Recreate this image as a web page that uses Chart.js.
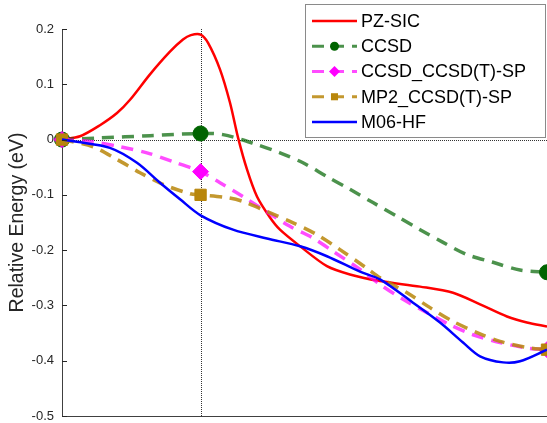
<!DOCTYPE html>
<html><head><meta charset="utf-8">
<script src="https://cdn.jsdelivr.net/npm/chart.js@4.4.1/dist/chart.umd.min.js"></script>
<style>html,body{margin:0;padding:0;background:#fff;overflow:hidden}#wrap{width:547px;height:423px}</style>
</head><body><div id="wrap"><canvas id="c" width="547" height="423"></canvas></div>
<script>
// ---- data ----
const seriesNames = ['PZ-SIC', 'CCSD', 'CCSD_CCSD(T)-SP', 'MP2_CCSD(T)-SP', 'M06-HF'];

const pzX = [0, 0.13, 0.274, 0.397, 0.491, 0.635, 0.779, 0.873, 0.93, 1.0, 1.054, 1.14, 1.212, 1.27, 1.335, 1.407, 1.501, 1.573, 1.718, 1.912, 2.078, 2.295, 2.584, 2.822, 3.017, 3.211, 3.355, 3.5];
const pzY = [0, 0.006, 0.026, 0.048, 0.072, 0.118, 0.159, 0.181, 0.189, 0.19, 0.175, 0.127, 0.067, 0.004, -0.054, -0.103, -0.141, -0.163, -0.193, -0.229, -0.244, -0.256, -0.266, -0.277, -0.298, -0.32, -0.331, -0.338];

const ccsdX = [0, 0.274, 0.635, 1.0, 1.162, 1.407, 1.573, 1.739, 1.912, 2.078, 2.244, 2.418, 2.584, 2.75, 2.923, 3.11, 3.305, 3.5];
const ccsdY = [0, 0.003, 0.007, 0.011, 0.009, -0.009, -0.024, -0.042, -0.067, -0.09, -0.114, -0.139, -0.163, -0.186, -0.208, -0.222, -0.236, -0.24];

const ccsdtX = [0, 0.224, 0.419, 0.613, 0.801, 1.0, 1.14, 1.306, 1.645, 1.79, 1.956, 2.151, 2.295, 2.461, 2.634, 2.8, 2.966, 3.161, 3.355, 3.5];
const ccsdtY = [0, -0.004, -0.013, -0.024, -0.04, -0.058, -0.078, -0.103, -0.157, -0.175, -0.202, -0.235, -0.262, -0.289, -0.313, -0.335, -0.353, -0.367, -0.377, -0.38];

const mp2X = [0, 0.224, 0.397, 0.563, 0.729, 0.924, 1.0, 1.191, 1.306, 1.479, 1.645, 1.84, 2.006, 2.201, 2.295, 2.49, 2.656, 2.822, 2.995, 3.161, 3.355, 3.5];
const mp2Y = [0, -0.013, -0.036, -0.06, -0.081, -0.098, -0.1, -0.105, -0.112, -0.13, -0.148, -0.172, -0.199, -0.233, -0.25, -0.277, -0.304, -0.329, -0.349, -0.365, -0.376, -0.38];

const m06X = [0, 0.108, 0.346, 0.541, 0.707, 0.852, 1.0, 1.234, 1.479, 1.718, 1.912, 2.151, 2.295, 2.533, 2.728, 2.894, 3.017, 3.183, 3.305, 3.5];
const m06Y = [0, -0.004, -0.015, -0.042, -0.078, -0.108, -0.137, -0.163, -0.179, -0.193, -0.211, -0.239, -0.253, -0.295, -0.331, -0.367, -0.392, -0.403, -0.401, -0.38];

const markerX = [0, 1, 3.5];
const refX = 1;
const refY = 0;
const yTickValues = [-0.5, -0.4, -0.3, -0.2, -0.1, 0, 0.1, 0.2];
const yTickLabels = ['-0.5', '-0.4', '-0.3', '-0.2', '-0.1', '0', '0.1', '0.2'];

// ---- build ----
const FONT = '"Liberation Sans", Arial, Helvetica, sans-serif';
const pts = (xs, ys) => xs.map((x, i) => ({x: x, y: ys[i]}));
const markerRadius = r => (ctx) => (ctx.type === 'data' && ctx.raw && markerX.includes(ctx.raw.x)) ? r : 0;

const styles = [
  {color: '#ff0000', width: 2.5, dash: [], marker: null},
  {color: 'rgba(0,100,0,0.7)', width: 3.5, dash: [12, 8], marker: 'circle', mcolor: '#006400', r: 7.5, lr: 4.5},
  {color: 'rgba(255,0,255,0.7)', width: 3.5, dash: [12, 8], marker: 'rectRot', mcolor: '#ff00ff', r: 8, lr: 5.5},
  {color: 'rgba(184,134,11,0.85)', width: 3.5, dash: [12, 8], marker: 'rect', mcolor: '#b8860b', r: 8, lr: 5},
  {color: '#0000ff', width: 2.5, dash: [], marker: null}
];
const seriesData = [pts(pzX, pzY), pts(ccsdX, ccsdY), pts(ccsdtX, ccsdtY), pts(mp2X, mp2Y), pts(m06X, m06Y)];
const orders = [5, 4, 3, 2, 1];

const datasets = seriesNames.map((name, i) => {
  const s = styles[i];
  return {
    label: name,
    data: seriesData[i],
    borderColor: s.color,
    borderWidth: s.width,
    borderDash: s.dash,
    tension: 0.3,
    fill: false,
    clip: false,
    order: orders[i],
    pointStyle: s.marker || 'circle',
    pointRadius: s.marker ? markerRadius(s.r) : 0,
    pointHoverRadius: 0,
    pointBackgroundColor: s.mcolor || s.color,
    pointBorderColor: s.mcolor || s.color,
    pointBorderWidth: 1
  };
});

const refLines = {
  id: 'refLines',
  beforeDatasetsDraw(chart) {
    const {ctx, chartArea: a, scales: {x, y}} = chart;
    ctx.save();
    ctx.strokeStyle = '#333';
    ctx.lineWidth = 1;
    ctx.setLineDash([1, 1]);
    const px = Math.round(x.getPixelForValue(refX)) + 0.5;
    ctx.beginPath(); ctx.moveTo(px, a.top); ctx.lineTo(px, a.bottom); ctx.stroke();
    const py = Math.round(y.getPixelForValue(refY)) + 0.5;
    ctx.beginPath(); ctx.moveTo(a.left, py); ctx.lineTo(a.right, py); ctx.stroke();
    ctx.restore();
  },
  afterDraw(chart) {
    const {ctx, chartArea: a, scales: {y}} = chart;
    ctx.save();
    ctx.strokeStyle = '#262626';
    ctx.lineWidth = 1;
    yTickValues.forEach(v => {
      const py = Math.round(y.getPixelForValue(v)) + 0.5;
      ctx.beginPath(); ctx.moveTo(a.left, py); ctx.lineTo(a.left + 5, py); ctx.stroke();
    });
    ctx.restore();
  }
};

function drawMarker(ctx, style, r, cx, cy, color) {
  ctx.fillStyle = color;
  ctx.beginPath();
  if (style === 'circle') {
    ctx.arc(cx, cy, r, 0, Math.PI * 2);
  } else if (style === 'rectRot') {
    ctx.moveTo(cx - r, cy); ctx.lineTo(cx, cy - r); ctx.lineTo(cx + r, cy); ctx.lineTo(cx, cy + r); ctx.closePath();
  } else {
    const h = r * Math.SQRT1_2;
    ctx.rect(cx - h, cy - h, 2 * h, 2 * h);
  }
  ctx.fill();
}

const legendBox = {
  id: 'legendBox',
  afterDraw(chart) {
    const ctx = chart.ctx;
    const bx = 305, by = 4, bw = 240, bh = 133;
    ctx.save();
    ctx.fillStyle = '#fff';
    ctx.fillRect(bx, by, bw, bh);
    ctx.strokeStyle = '#8a8a8a';
    ctx.lineWidth = 1;
    ctx.setLineDash([]);
    ctx.strokeRect(bx + 0.5, by + 0.5, bw, bh);
    seriesNames.forEach((name, i) => {
      const s = styles[i];
      const cy = 21 + i * 25.25;
      ctx.strokeStyle = s.color;
      ctx.lineWidth = s.marker ? 3 : 2.5;
      ctx.setLineDash(s.dash);
      ctx.beginPath(); ctx.moveTo(312, cy); ctx.lineTo(357, cy); ctx.stroke();
      ctx.setLineDash([]);
      if (s.marker) drawMarker(ctx, s.marker, s.lr, 334.5, cy, s.mcolor);
      ctx.fillStyle = '#000';
      ctx.font = '18px ' + FONT;
      ctx.textBaseline = 'middle';
      ctx.textAlign = 'left';
      ctx.fillText(name, 361, cy + 1);
    });
    ctx.restore();
  }
};

new Chart(document.getElementById('c'), {
  type: 'line',
  data: {datasets: datasets},
  options: {
    responsive: false,
    animation: false,
    devicePixelRatio: 1,
    layout: {autoPadding: false, padding: {top: 29, right: 0, bottom: 7, left: 0}},
    plugins: {legend: {display: false}, tooltip: {enabled: false}},
    scales: {
      x: {
        type: 'linear', min: 0, max: 3.5,
        grid: {display: false, drawTicks: false},
        ticks: {display: false},
        border: {display: true, color: '#404040', width: 1},
        afterFit: s => { s.height = 0; s.paddingLeft = 0; s.paddingRight = 0; }
      },
      y: {
        type: 'linear', min: -0.5, max: 0.2,
        grid: {display: false, drawTicks: false},
        border: {display: true, color: '#404040', width: 1},
        afterBuildTicks: s => { s.ticks = yTickValues.map(v => ({value: v})); },
        ticks: {
          color: '#262626', padding: 8,
          font: {family: FONT, size: 13},
          callback: (v) => { const k = yTickValues.findIndex(t => Math.abs(t - v) < 1e-9); return k >= 0 ? yTickLabels[k] : ''; }
        },
        title: {
          display: true, text: 'Relative Energy (eV)', color: '#262626',
          font: {family: FONT, size: 19.5, lineHeight: 1.2}, padding: {top: 6, bottom: 0}
        },
        afterFit: s => { s.width = 62; s.paddingTop = 0; s.paddingBottom = 0; }
      }
    }
  },
  plugins: [refLines, legendBox]
});
</script></body></html>
